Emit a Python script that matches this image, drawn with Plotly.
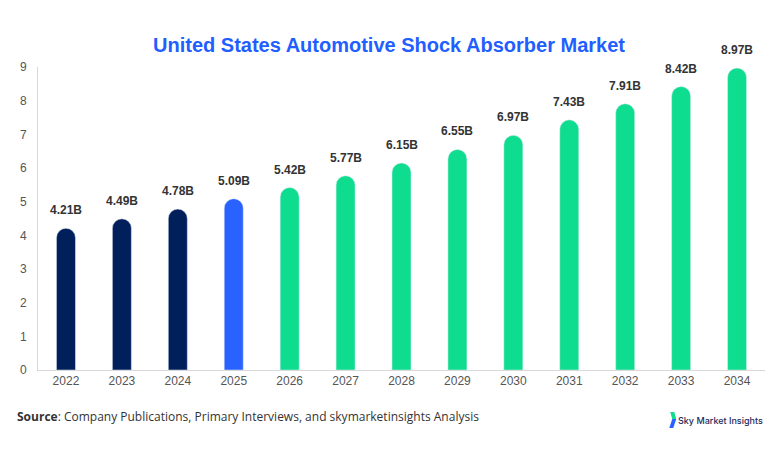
import plotly.graph_objects as go

years = ["2022", "2023", "2024", "2025", "2026", "2027", "2028", "2029", "2030", "2031", "2032", "2033", "2034"]
values = [4.21, 4.49, 4.78, 5.09, 5.42, 5.77, 6.15, 6.55, 6.97, 7.43, 7.91, 8.42, 8.97]
labels = ["4.21B", "4.49B", "4.78B", "5.09B", "5.42B", "5.77B", "6.15B", "6.55B", "6.97B", "7.43B", "7.91B", "8.42B", "8.97B"]
colors = ["#001f5b"] * 3 + ["#2962ff"] + ["#0edd8f"] * 9

W, H = 782, 454
L, R, T, B = 28, 25, 59, 92
pw, ph = W - L - R, H - T - B


def px2paper(x, y):
    return (x - L) / pw, (H - B - y) / ph


fig = go.Figure()
fig.add_trace(go.Bar(
    x=years, y=values,
    marker=dict(color=colors, cornerradius=10),
    width=0.34, hoverinfo="skip",
))
# category axis: annotation x is the category index
for i, (v, lab) in enumerate(zip(values, labels)):
    fig.add_annotation(
        x=i, y=v, text=f"<b>{lab}</b>", showarrow=False, yanchor="bottom", yshift=9,
        font=dict(family="Liberation Sans, Arial", size=12, color="#333333"),
    )

fig.update_layout(
    width=W, height=H,
    margin=dict(l=L, r=R, t=T, b=B),
    plot_bgcolor="white", paper_bgcolor="white",
    showlegend=False,
    title=dict(
        text="<b>United States Automotive Shock Absorber Market</b>",
        x=381 / W, xanchor="center", y=1 - 37 / H, yanchor="middle",
        font=dict(family="Liberation Sans, Arial", size=20, color="#1f5eff"),
    ),
    font=dict(family="Liberation Sans, Arial", size=12, color="#555555"),
)
fig.update_xaxes(type="category", showline=True, linecolor="#d9d9d9", linewidth=1, ticks="",
                 showgrid=False, tickfont=dict(size=12, color="#555555"))
fig.update_yaxes(range=[0, 9], dtick=1, showgrid=False, zeroline=False,
                 showline=True, linecolor="#d9d9d9", linewidth=1, ticklabelstandoff=8,
                 tickfont=dict(size=12, color="#555555"))

sx, sy = px2paper(5, 408)
fig.add_annotation(
    xref="paper", yref="paper", x=sx, y=sy, xanchor="left", yanchor="middle",
    text="<b>Source</b>: Company Publications, Primary Interviews, and skymarketinsights Analysis",
    showarrow=False, font=dict(family="Open Sans", size=12, color="#333333"),
)

# logo
lx, ly = px2paper(757, 412)
fig.add_annotation(
    xref="paper", yref="paper", x=lx, y=ly, xanchor="right", yanchor="middle",
    text="Sky Market Insights",
    showarrow=False, font=dict(family="Inter", size=9, color="#1e2a5a", weight=500),
)


def poly(pts, color):
    p = [px2paper(x, y) for x, y in pts]
    path = "M " + " L ".join(f"{a},{b}" for a, b in p) + " Z"
    fig.add_shape(type="path", xref="paper", yref="paper", path=path,
                  fillcolor=color, line=dict(width=0))


poly([(662, 404), (666, 404), (668, 411), (664, 411)], "#0edd8f")
poly([(664, 411), (668, 411), (665, 420), (661, 420)], "#2962ff")

fig.write_html("out.html")
